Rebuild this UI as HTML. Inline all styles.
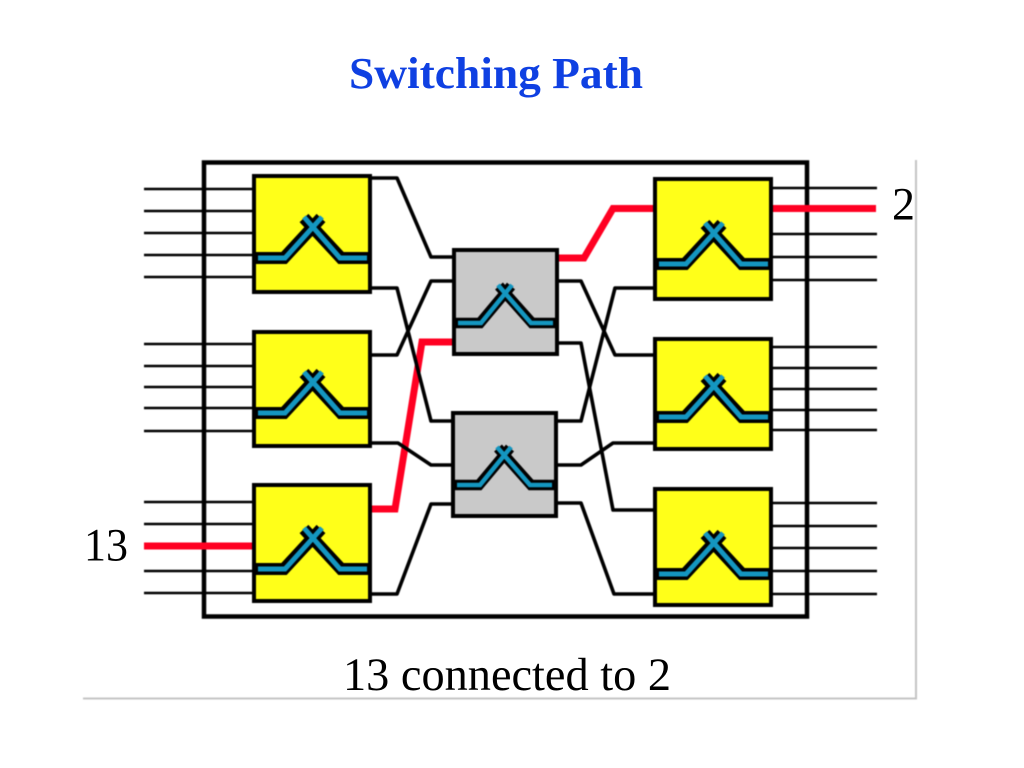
<!DOCTYPE html>
<html>
<head>
<meta charset="utf-8">
<style>
html,body{margin:0;padding:0;background:#fff;width:1024px;height:768px;overflow:hidden}
svg{display:block}
#shapes{filter:blur(0.4px)}
text{font-family:"Liberation Serif",serif}
</style>
</head>
<body>
<svg width="1024" height="768" viewBox="0 0 1024 768" xmlns="http://www.w3.org/2000/svg">
<defs>
<g id="y">
<path d="M0 82H30L67 42M116 82H87L50 42" fill="none" stroke="#000" stroke-width="12"/>
<path d="M4 82H31L68 41M113 82H86L50 41" fill="none" stroke="#1496c0" stroke-width="5"/>
</g>
<g id="g">
<path d="M0 74H26L57 37M103 74H78L45 37" fill="none" stroke="#000" stroke-width="10.500"/>
<path d="M4 74H27L58 36M99 74H77L44 36" fill="none" stroke="#1496c0" stroke-width="4.500"/>
</g>
</defs>

<g id="shapes">
<path d="M83 698.500H916V160" fill="none" stroke="#c4c4c4" stroke-width="2"/>

<rect x="204" y="162.500" width="603" height="454" fill="#fff" stroke="#000" stroke-width="4.500"/>

<g stroke="#000" stroke-width="2.500" fill="none">
<path d="M144 189H254M144 211H254M144 233H254M144 255H254M144 277H254"/>
<path d="M144 344H254M144 366H254M144 387H254M144 408H254M144 431H254"/>
<path d="M144 502H254M144 524H254M144 571H254M144 593H254"/>
<path d="M771 188H877M771 234H877M771 257H877M771 280H877"/>
<path d="M771 347H877M771 368H877M771 389H877M771 410H877M771 430H877"/>
<path d="M771 503H877M771 526H877M771 548H877M771 571H877M771 594H877"/>
</g>

<g stroke="#ff0022" stroke-width="7" fill="none" stroke-linejoin="miter">
<path d="M144 546H254"/>
<path d="M771 208.500H876"/>
<path d="M370 509H395L422 342H454"/>
<path d="M557 258H584L613 208.500H655"/>
</g>

<g stroke="#000" stroke-width="3.600" fill="none" stroke-linejoin="round">
<path d="M370 178H397L431 257H454"/>
<path d="M370 288H397L431 421H454"/>
<path d="M370 355H397L431 281H454"/>
<path d="M370 443H398L431 465H454"/>
<path d="M370 594H397L431 504H454"/>
<path d="M557 281H581L615 355H655"/>
<path d="M557 343H581L613 510H655"/>
<path d="M557 421H581L615 288H655"/>
<path d="M557 465H581L613 443H655"/>
<path d="M557 503H581L614 594H655"/>
</g>

<g stroke="#000" stroke-width="4" fill="#ffff19">
<rect x="254" y="176" width="116" height="116"/>
<rect x="254" y="332" width="116" height="114"/>
<rect x="254" y="485" width="116" height="116"/>
<rect x="655" y="179" width="116" height="120"/>
<rect x="655" y="339" width="116" height="110"/>
<rect x="655" y="489" width="116" height="116"/>
<rect x="454" y="250" width="103" height="104" fill="#c9c9c9"/>
<rect x="453" y="413" width="103" height="103" fill="#c9c9c9"/>
</g>

<use href="#y" x="254" y="176"/>
<use href="#y" x="254" y="331"/>
<use href="#y" x="254" y="487"/>
<use href="#y" x="655" y="182"/>
<use href="#y" x="655" y="335"/>
<use href="#y" x="655" y="492"/>
<use href="#g" x="454" y="249"/>
<use href="#g" x="453" y="411"/>
</g>

<text x="349" y="88" font-size="44" font-weight="bold" fill="#0f40e2" textLength="294" lengthAdjust="spacingAndGlyphs">Switching Path</text>
<text x="84" y="560.500" font-size="47" fill="#000" textLength="44" lengthAdjust="spacingAndGlyphs">13</text>
<text x="892" y="219.500" font-size="47" fill="#000" textLength="23" lengthAdjust="spacingAndGlyphs">2</text>
<text x="343" y="690" font-size="47" fill="#000" textLength="328" lengthAdjust="spacingAndGlyphs">13 connected to 2</text>
</svg>
</body>
</html>
